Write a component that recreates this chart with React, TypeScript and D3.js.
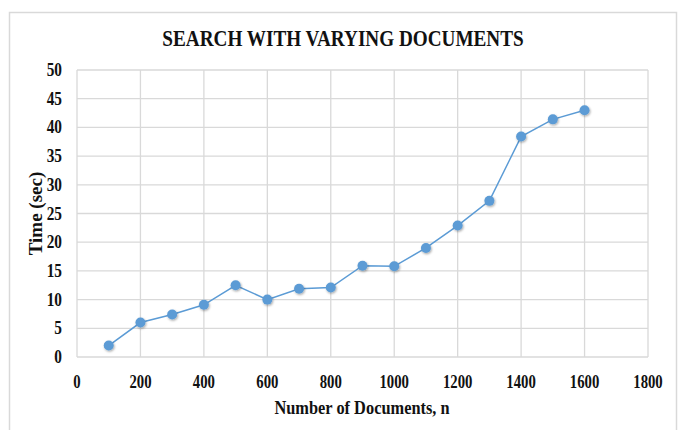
import React from "react";
import * as d3 from "d3";

const docs = [100, 200, 300, 400, 500, 600, 700, 800, 900, 1000, 1100, 1200, 1300, 1400, 1500, 1600];
const times = [2.0, 6.0, 7.4, 9.1, 12.5, 10.0, 11.9, 12.1, 15.9, 15.8, 19.0, 22.9, 27.2, 38.4, 41.4, 43.0];
const xTicks = [0, 200, 400, 600, 800, 1000, 1200, 1400, 1600, 1800];
const yTicks = [0, 5, 10, 15, 20, 25, 30, 35, 40, 45, 50];

const W = 680;
const H = 430;
const m = { left: 77, right: 32, top: 70, bottom: 73 };
const FONT = "'Liberation Serif', 'Times New Roman', serif";
const BLUE = "#5b9bd5";
const GRID = "#d9d9d9";

export default function App() {
  const x = d3.scaleLinear().domain([0, 1800]).range([m.left, W - m.right]);
  const y = d3.scaleLinear().domain([0, 50]).range([H - m.bottom, m.top]);
  const line = d3.line<number>().x((d, i) => x(docs[i])).y(d => y(d));

  // labels in the picture are squeezed sideways
  const sq = (cx: number, cy: number, k: number) => `translate(${cx},${cy}) scale(${k},1)`;

  return (
    <svg width={W} height={H} style={{ position: "absolute", left: 0, top: 0, background: "#fff" }}>
      <defs>
        <filter id="shadow" x="-50%" y="-50%" width="200%" height="200%">
          <feDropShadow dx="0.8" dy="1.2" stdDeviation="0.9" floodColor="#000" floodOpacity="0.35" />
        </filter>
      </defs>
      <rect x={9.5} y={12.5} width={667} height={430} fill="#fff" stroke={GRID} strokeWidth={1.5} />

      <text transform={sq(343, 46, 0.8)} textAnchor="middle" fontFamily={FONT} fontWeight="bold" fontSize={24} fill="#111">
        SEARCH WITH VARYING DOCUMENTS
      </text>

      {yTicks.map(t => (
        <line key={"gy" + t} x1={m.left} x2={W - m.right} y1={y(t)} y2={y(t)} stroke={GRID} strokeWidth={1.3} />
      ))}
      {xTicks.map(t => (
        <line key={"gx" + t} x1={x(t)} x2={x(t)} y1={m.top} y2={H - m.bottom} stroke={GRID} strokeWidth={1.3} />
      ))}

      {yTicks.map(t => (
        <text key={"ly" + t} transform={sq(62, y(t) + 6, 0.85)} textAnchor="end" fontFamily={FONT} fontWeight="bold" fontSize={18} fill="#111">
          {t}
        </text>
      ))}
      {xTicks.map(t => (
        <text key={"lx" + t} transform={sq(x(t), 388, 0.82)} textAnchor="middle" fontFamily={FONT} fontWeight="bold" fontSize={18} fill="#111">
          {t}
        </text>
      ))}

      <text transform={sq(362, 414, 0.84)} textAnchor="middle" fontFamily={FONT} fontWeight="bold" fontSize={19.5} fill="#111">
        Number of Documents, n
      </text>
      <text transform={`translate(42,${(m.top + H - m.bottom) / 2}) rotate(-90)`} textAnchor="middle" fontFamily={FONT} fontWeight="bold" fontSize={19} fill="#111">
        Time (sec)
      </text>

      <path d={line(times) ?? ""} fill="none" stroke={BLUE} strokeWidth={1.5} />
      {times.map((t, i) => (
        <circle key={i} cx={x(docs[i])} cy={y(t)} r={5} fill={BLUE} filter="url(#shadow)" />
      ))}
    </svg>
  );
}
